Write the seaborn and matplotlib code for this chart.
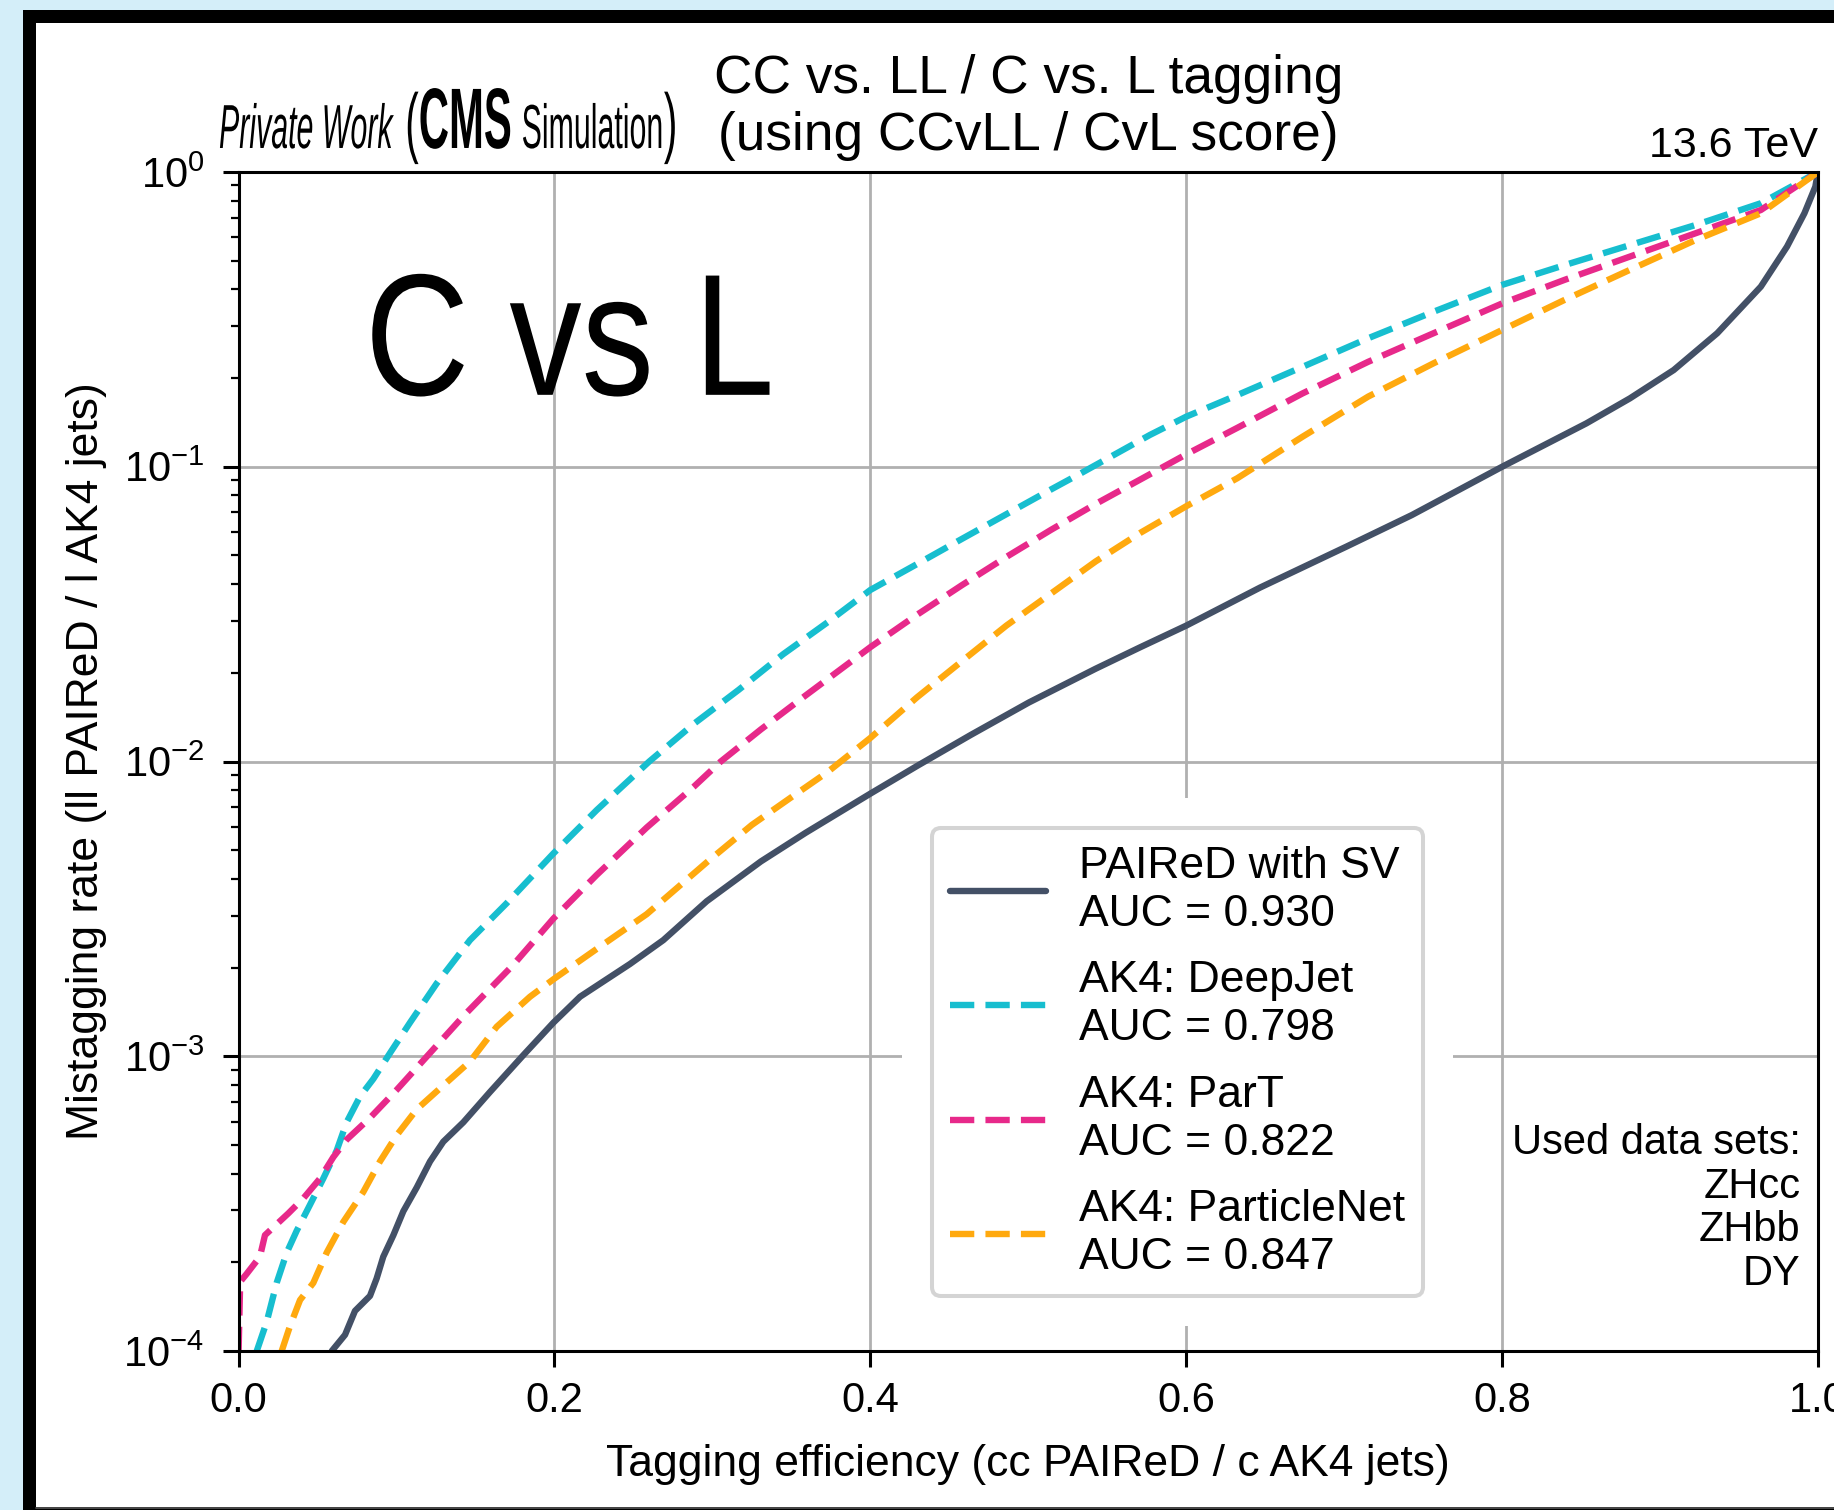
import matplotlib
matplotlib.use("Agg")
import matplotlib.pyplot as plt
import numpy as np
import pandas as pd
import seaborn as sns
from matplotlib.lines import Line2D
from matplotlib.patches import Rectangle
from matplotlib.patheffects import AbstractPathEffect
from matplotlib.transforms import Affine2D

# ---------------- data ----------------
models = ["PAIReD with SV", "AK4: DeepJet", "AK4: ParT", "AK4: ParticleNet"]
auc_values = [0.930, 0.798, 0.822, 0.847]
colors = ["#435066", "#17becf", "#e7298a", "#ffa90e"]

paired_eff = [0.059, 0.0674, 0.0737, 0.0832, 0.0874, 0.0916, 0.098, 0.1043, 0.1128,
              0.1212, 0.1296, 0.1423, 0.1592, 0.1803, 0.1993, 0.2162, 0.2478, 0.2689,
              0.2964, 0.3307, 0.359, 0.4, 0.4296, 0.4635, 0.5003, 0.5427, 0.571, 0.6,
              0.6467, 0.7014, 0.7428, 0.8, 0.8533, 0.8809, 0.9086, 0.9362, 0.9638,
              0.9804, 0.9914, 0.9983, 1.0]
paired_mis = [1.0e-4, 1.135e-4, 1.368e-4, 1.538e-4, 1.762e-4, 2.089e-4, 2.472e-4,
              2.979e-4, 3.589e-4, 4.395e-4, 5.129e-4, 5.970e-4, 7.568e-4, 1.009e-3,
              1.300e-3, 1.592e-3, 2.056e-3, 2.477e-3, 3.357e-3, 4.581e-3, 5.728e-3,
              7.780e-3, 9.66e-3, 1.230e-2, 1.585e-2, 2.065e-2, 2.443e-2, 2.891e-2,
              3.890e-2, 5.358e-2, 6.855e-2, 0.1, 0.1403, 0.1706, 0.2128, 0.2838,
              0.4083, 0.5585, 0.7244, 0.8913, 1.0]

deepjet_eff = [0.0115, 0.0178, 0.0241, 0.0305, 0.0368, 0.0452, 0.0536, 0.0621, 0.0684,
               0.0769, 0.0853, 0.0959, 0.1085, 0.1254, 0.1465, 0.1697, 0.1993, 0.2267,
               0.26, 0.2883, 0.3166, 0.3448, 0.3731, 0.4, 0.4296, 0.4579, 0.4861,
               0.5144, 0.534, 0.577, 0.6, 0.6323, 0.6737, 0.7152, 0.7566, 0.8, 0.8395,
               0.8809, 0.9224, 0.9638, 1.0]
deepjet_mis = [1.0e-4, 1.256e-4, 1.702e-4, 2.158e-4, 2.559e-4, 3.133e-4, 3.846e-4,
               4.786e-4, 5.970e-4, 7.31e-4, 8.375e-4, 1.026e-3, 1.300e-3, 1.766e-3,
               2.477e-3, 3.304e-3, 4.875e-3, 6.839e-3, 1.0e-2, 1.343e-2, 1.750e-2,
               2.312e-2, 2.972e-2, 3.819e-2, 4.677e-2, 5.689e-2, 6.902e-2, 8.375e-2,
               9.55e-2, 0.1282, 0.1479, 0.1750, 0.2183, 0.2729, 0.3357, 0.4140, 0.4831,
               0.5649, 0.6607, 0.7834, 1.0]

part_eff = [0.0, 0.001, 0.005, 0.0135, 0.0167, 0.0241, 0.0315, 0.041, 0.0515, 0.06,
            0.0684, 0.0832, 0.1001, 0.1212, 0.1423, 0.1739, 0.1993, 0.2267, 0.2584,
            0.2883, 0.3053, 0.3307, 0.359, 0.4, 0.4296, 0.4579, 0.4861, 0.5144,
            0.5427, 0.571, 0.6, 0.6323, 0.6737, 0.7152, 0.7566, 0.8, 0.8395, 0.8809,
            0.9224, 0.9638, 1.0]
part_mis = [1.0e-4, 1.718e-4, 1.824e-4, 2.089e-4, 2.472e-4, 2.692e-4, 2.931e-4,
            3.296e-4, 3.846e-4, 4.550e-4, 5.212e-4, 6.180e-4, 7.691e-4, 1.026e-3,
            1.368e-3, 2.042e-3, 2.931e-3, 4.121e-3, 5.970e-3, 8.22e-3, 1.0e-2,
            1.285e-2, 1.675e-2, 2.443e-2, 3.148e-2, 3.963e-2, 4.943e-2, 6.109e-2,
            7.482e-2, 9.057e-2, 0.1102, 0.1355, 0.1774, 0.2270, 0.2838, 0.3581,
            0.4305, 0.5164, 0.6194, 0.7430, 1.0]

pnet_eff = [0.0273, 0.0325, 0.0389, 0.0473, 0.0558, 0.0663, 0.079, 0.0895, 0.1001,
            0.1128, 0.1296, 0.1465, 0.1634, 0.1845, 0.1993, 0.2267, 0.2584, 0.2964,
            0.325, 0.3503, 0.3731, 0.4, 0.4296, 0.4579, 0.4861, 0.5144, 0.5427,
            0.571, 0.6, 0.6323, 0.6737, 0.7152, 0.7566, 0.8, 0.8395, 0.8809, 0.9224,
            0.9638, 1.0]
pnet_mis = [1.0e-4, 1.213e-4, 1.489e-4, 1.702e-4, 2.158e-4, 2.742e-4, 3.467e-4,
            4.395e-4, 5.395e-4, 6.607e-4, 7.962e-4, 9.594e-4, 1.259e-3, 1.592e-3,
            1.824e-3, 2.312e-3, 3.034e-3, 4.550e-3, 6.095e-3, 7.586e-3, 9.226e-3,
            1.202e-2, 1.652e-2, 2.188e-2, 2.891e-2, 3.715e-2, 4.775e-2, 5.970e-2,
            7.345e-2, 9.141e-2, 0.1265, 0.1730, 0.2244, 0.2911, 0.3681, 0.4656,
            0.5875, 0.7244, 1.0]

x_ticks = [0.0, 0.2, 0.4, 0.6, 0.8, 1.0]
x_tick_labels = ["0.0", "0.2", "0.4", "0.6", "0.8", "1.0"]
datasets = ["ZHcc", "ZHbb", "DY"]

curves = {
    models[0]: (paired_eff, paired_mis),
    models[1]: (deepjet_eff, deepjet_mis),
    models[2]: (part_eff, part_mis),
    models[3]: (pnet_eff, pnet_mis),
}

# ---------------- style ----------------
sns.set_theme(style="ticks")
plt.rcParams["font.family"] = ["Liberation Sans", "DejaVu Sans"]
plt.rcParams["mathtext.fontset"] = "custom"
plt.rcParams["mathtext.rm"] = "Liberation Sans"
plt.rcParams["mathtext.it"] = "Liberation Sans:italic"
plt.rcParams["mathtext.bf"] = "Liberation Sans:bold"
plt.rcParams["axes.axisbelow"] = True


class VStretch(AbstractPathEffect):
    """Stretch glyphs vertically about the baseline (condensed headline look)."""

    def __init__(self, sy):
        super().__init__()
        self.sy = sy

    def draw_path(self, renderer, gc, tpath, affine, rgbFace=None):
        renderer.draw_path(gc, tpath, Affine2D().scale(1.0, self.sy) + affine, rgbFace)


W, H, DPI = 1834, 1510, 200
fig = plt.figure(figsize=(W / DPI, H / DPI), dpi=DPI)
fig.patch.set_facecolor("#d4eef9")

# page frame behind the plot
fig.add_artist(Rectangle((23 / W, 0), 1.0, 1 - 10 / H, transform=fig.transFigure,
                         facecolor="black", edgecolor="none", zorder=-3))
fig.add_artist(Rectangle((36 / W, 3 / H), 1.0, 1 - 26 / H, transform=fig.transFigure,
                         facecolor="white", edgecolor="none", zorder=-2))
fig.add_artist(Line2D([36 / W, 1.0], [2.5 / H, 2.5 / H], transform=fig.transFigure,
                      color="#555555", lw=0.6, zorder=-1))

ax = fig.add_axes([238.6 / W, 1 - 1351 / H, (1818 - 238.6) / W, (1351 - 172) / H])
ax.set_facecolor("white")
ax.set_yscale("log")

frames = [pd.DataFrame({"eff": e, "mis": m, "model": name}) for name, (e, m) in curves.items()]
df = pd.concat(frames, ignore_index=True)

LW = 2.3
dash = (3.8, 1.75)
dashes = {models[0]: "", models[1]: dash, models[2]: dash, models[3]: dash}
palette = dict(zip(models, colors))

sns.lineplot(data=df, x="eff", y="mis", hue="model", style="model",
             hue_order=models, style_order=models, palette=palette, dashes=dashes,
             estimator=None, sort=False, linewidth=LW, legend=False, ax=ax)

ax.set_xlim(0.0, 1.0)
ax.set_ylim(1e-4, 1.0)
ax.set_xticks(x_ticks)
ax.set_xticklabels(x_tick_labels)
ax.grid(True, which="major", color="#b0b0b0", linewidth=1.0)
ax.grid(False, which="minor")
for sp in ax.spines.values():
    sp.set_color("black")
    sp.set_linewidth(1.1)
ax.tick_params(axis="both", which="major", direction="out", length=5.8, width=1.1,
               color="black", labelsize=15, labelcolor="black")
ax.tick_params(axis="x", which="major", pad=5)
ax.tick_params(axis="y", which="major", pad=6.5)
ax.tick_params(axis="y", which="minor", direction="out", length=3.0, width=0.8, color="black")
ax.tick_params(axis="x", which="minor", bottom=False)

ax.set_xlabel("Tagging efficiency (cc PAIReD / c AK4 jets)", fontsize=16, labelpad=8.3,
              color="black")
ax.set_ylabel("Mistagging rate (ll PAIReD / l AK4 jets)", fontsize=16, labelpad=6,
              color="black")
ax.set_title("CC vs. LL / C vs. L tagging\n(using CCvLL / CvL score)", fontsize=19.2,
             pad=8, linespacing=1.18, color="black")

ax.text(1.0, 1.0127, "13.6 TeV", transform=ax.transAxes, ha="right", va="baseline",
        fontsize=15.5, color="black")
big = ax.text(0.080, 0.811, "C vs L", transform=ax.transAxes, ha="left", va="baseline",
              fontsize=52, color="black")
big.set_path_effects([VStretch(1.2)])
ax.text(0.989, 0.1934, "Used data sets:\n" + "\n".join(datasets), transform=ax.transAxes,
        ha="right", va="top", multialignment="right", fontsize=15, linespacing=1.12,
        color="black")

# legend
handles = []
for m, c in zip(models, colors):
    if dashes[m] == "":
        handles.append(Line2D([], [], color=c, lw=LW, linestyle="-"))
    else:
        handles.append(Line2D([], [], color=c, lw=LW, dashes=dashes[m]))
labels = [f"{m}\nAUC = {a:.3f}" for m, a in zip(models, auc_values)]
leg = ax.legend(handles, labels, loc="lower left", bbox_to_anchor=(0.439, 0.0467),
                borderaxespad=0, fontsize=16, handlelength=2.16, handletextpad=0.74,
                borderpad=0.4, labelspacing=0.57, frameon=True, fancybox=True,
                framealpha=1.0, edgecolor="#d4d4d4", facecolor="white")
leg.get_frame().set_linewidth(1.45)
for t in leg.get_texts():
    t.set_linespacing(1.22)
    t.set_color("black")

# experiment label: condensed look via vertical stretch of smaller glyphs
cond = 0.52
parts = [
    ("Private Work", 21, "normal", "italic", 13, 2.05),
    ("(", 28, "normal", "normal", 0, 1.0 / cond),
    ("CMS", 29, "bold", "normal", 10, 2.05),
    ("Simulation", 21, "normal", "normal", 1, 2.05),
    (")", 28, "normal", "normal", 0, 1.0 / cond),
]
fig.canvas.draw()
renderer = fig.canvas.get_renderer()
x_px = 219.0
base_y = 1 - 148 / H
for txt, size, weight, style, gap, sy in parts:
    t = fig.text(x_px / W, base_y, txt, fontsize=size * cond, fontweight=weight,
                 fontstyle=style, ha="left", va="baseline", color="black")
    t.set_path_effects([VStretch(sy)])
    w = t.get_window_extent(renderer).width
    x_px += w + gap

# white margin around the legend that hides the grid beneath it
fig.canvas.draw()
bb = leg.get_window_extent(fig.canvas.get_renderer())
m = 30
inv = ax.transAxes.inverted()
(x0, y0), (x1, y1) = inv.transform([[bb.x0 - m, bb.y0 - m], [bb.x1 + m, bb.y1 + m]])
ax.add_patch(Rectangle((x0, y0), x1 - x0, y1 - y0, transform=ax.transAxes,
                       facecolor="white", edgecolor="none", zorder=1))

fig.savefig("out.png", dpi=DPI, facecolor=fig.get_facecolor())
